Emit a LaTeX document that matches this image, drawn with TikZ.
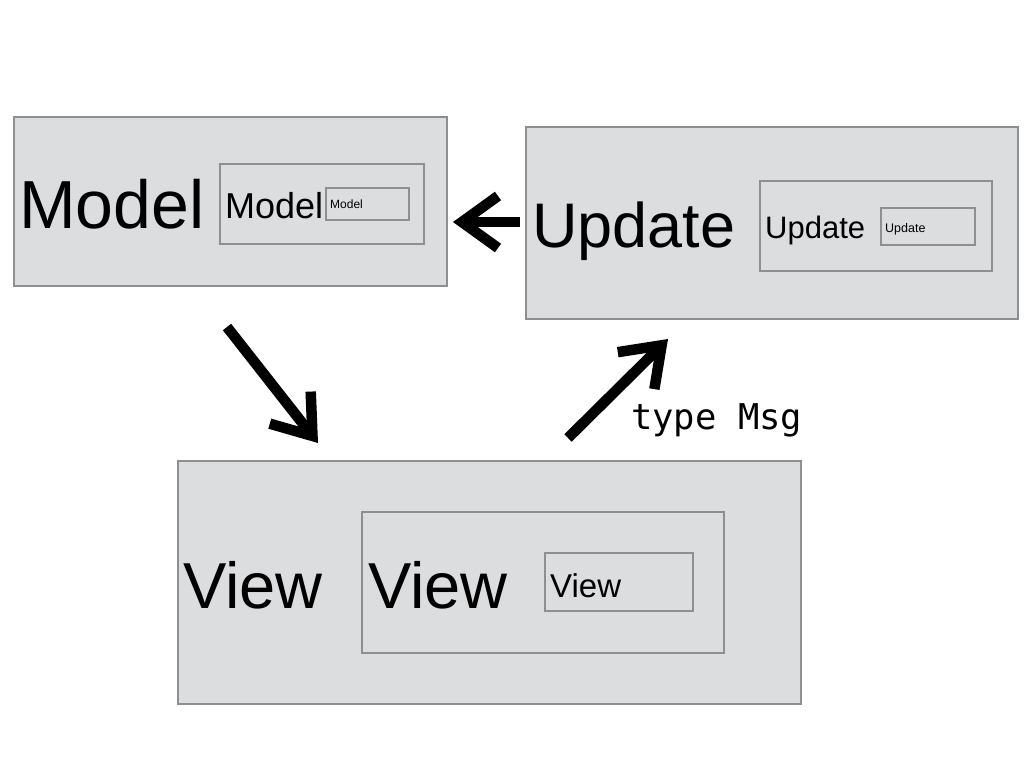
\documentclass[tikz,border=0pt]{standalone}
\usepackage{fontspec}
\setmainfont{Liberation Sans}
\newfontfamily\monofnt{DejaVu Sans Mono}
\usetikzlibrary{arrows.meta}
\definecolor{boxfill}{HTML}{DCDDDF}
\definecolor{boxline}{HTML}{8E8F93}
\tikzset{
  box/.style={draw=boxline, fill=boxfill, line width=2pt, inner sep=0pt, rectangle},
  lbl/.style={anchor=base west, inner sep=0pt, text=black},
  bigarrow/.style={line width=10.5pt, black, -{Straight Barb[length=36pt, width=52pt]}}
}
\newcommand{\fs}[1]{\fontsize{#1}{#1}\selectfont}
\begin{document}
\begin{tikzpicture}[x=1pt, y=-1pt]
\useasboundingbox (0,0) rectangle (1024,768);
% Model
\node[box, minimum width=433pt, minimum height=169pt] (model) at (230.5,201.5) {};
\node[box, minimum width=204pt, minimum height=80pt] (modelmid) at (322,204) {};
\node[box, minimum width=83pt, minimum height=32pt] (modelin) at (367.5,204) {};
\node[lbl] (modelT1) at (19,228) {\fs{68}Model};
\node[lbl] (modelT2) at (225,218) {\fs{36}Model};
\node[lbl] (modelT3) at (330,208) {\fs{12}Model};
% Update
\node[box, minimum width=492pt, minimum height=192pt] (upd) at (772,223) {};
\node[box, minimum width=232pt, minimum height=90pt] (updmid) at (876,226) {};
\node[box, minimum width=94pt, minimum height=37pt] (updin) at (928,226.5) {};
\node[lbl] (updT1) at (532,247) {\fs{63}Update};
\node[lbl] (updT2) at (765,238) {\fs{31}Update};
\node[lbl] (updT3) at (885,232) {\fs{12.5}Update};
% View
\node[box, minimum width=623pt, minimum height=243pt] (view) at (489.5,582.5) {};
\node[box, minimum width=362pt, minimum height=141pt] (viewmid) at (543,582.5) {};
\node[box, minimum width=148pt, minimum height=58pt] (viewin) at (619,582) {};
\node[lbl] (viewT1) at (183,608) {\fs{65}View};
\node[lbl] (viewT2) at (368,608) {\fs{65}View};
\node[lbl] (viewT3) at (550,597) {\fs{33}View};
% arrows
\coordinate (a1s) at (520,222);
\coordinate (a1e) at (453,222);
\coordinate (a2s) at (227,327);
\coordinate (a2e) at (318,443);
\coordinate (a3s) at (568,438);
\coordinate (a3e) at (668,339);
\draw[bigarrow] (a1s) -- (a1e);
\draw[bigarrow] (a2s) -- (a2e);
\draw[bigarrow] (a3s) -- (a3e);
\node[lbl] (msg) at (631,429) {\monofnt\fs{35.5}type Msg};
\end{tikzpicture}
\end{document}
